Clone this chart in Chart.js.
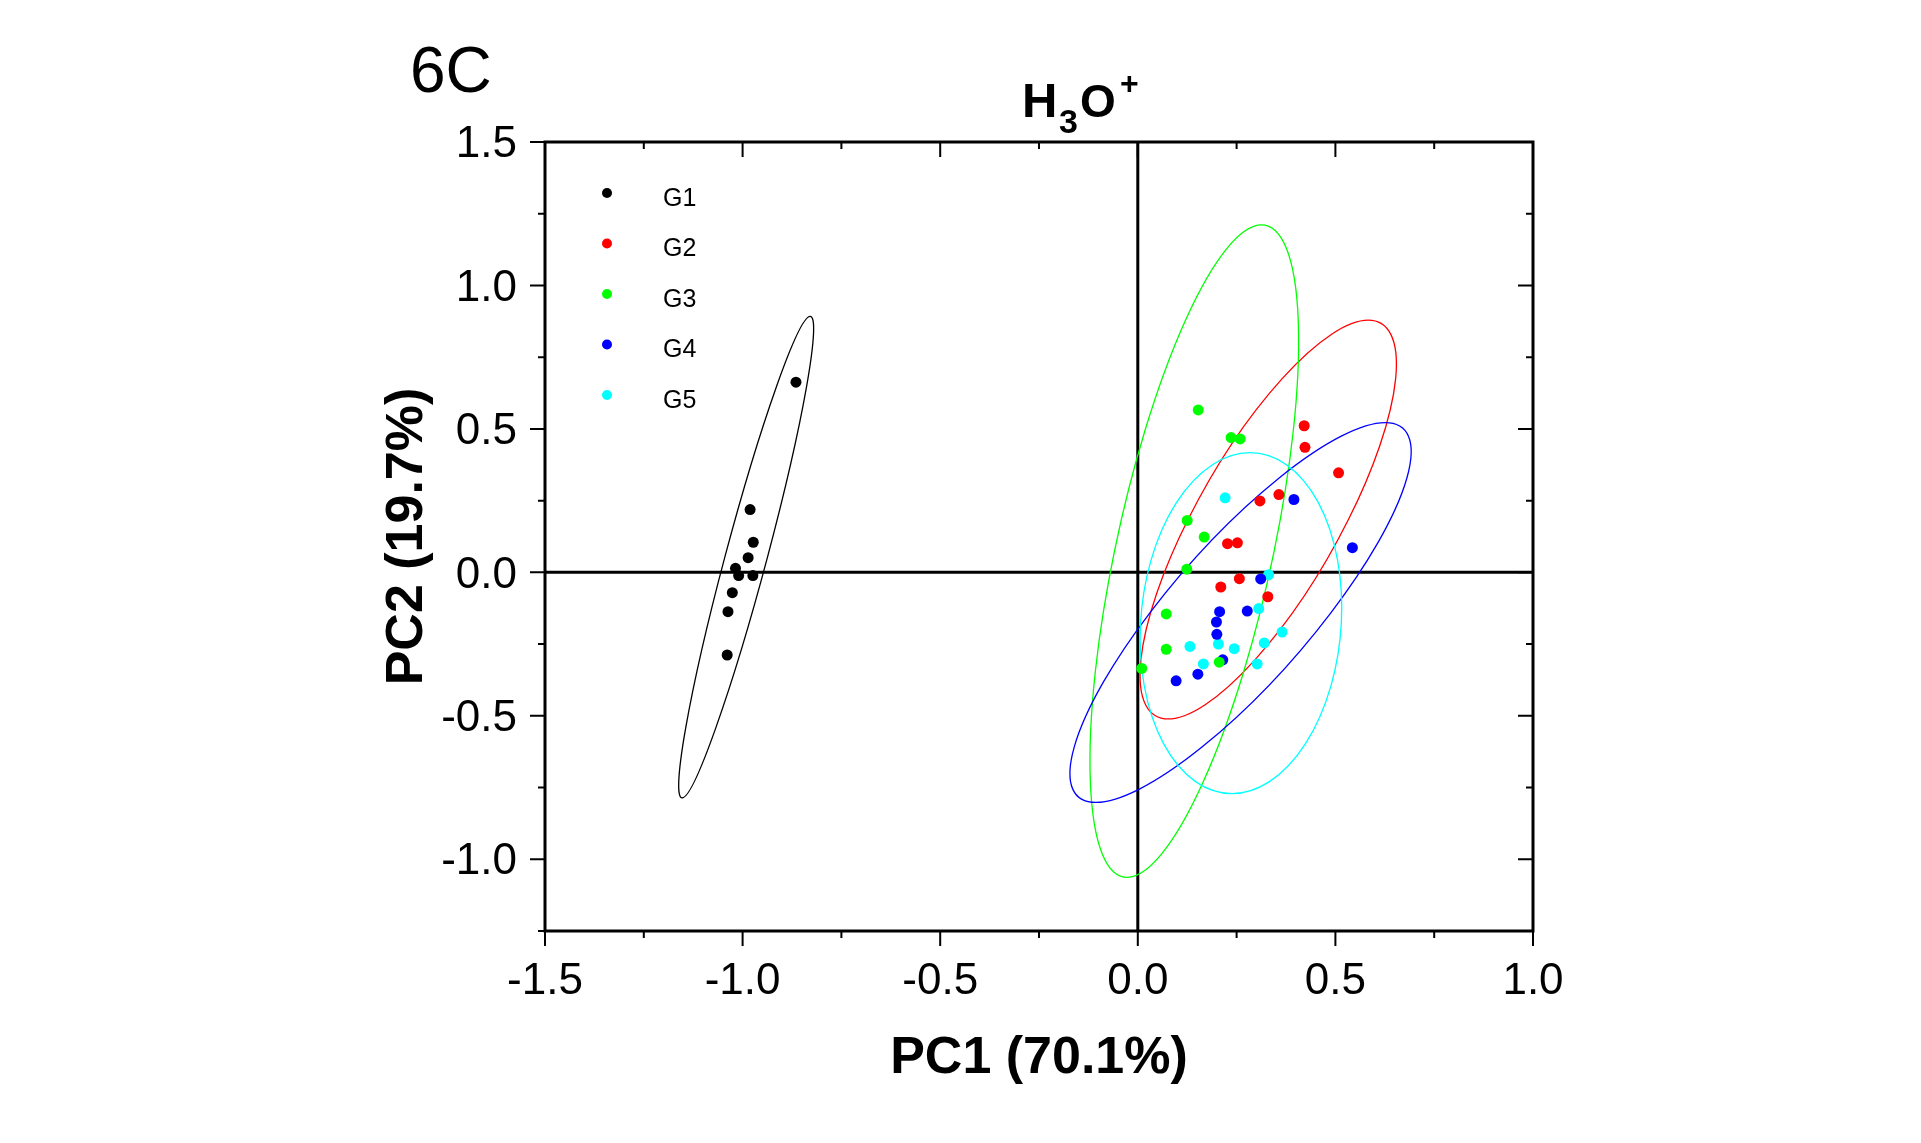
<!DOCTYPE html>
<html>
<head>
<meta charset="utf-8">
<title>6C - H3O+ PCA</title>
<script src="https://cdn.jsdelivr.net/npm/chart.js@4.4.1/dist/chart.umd.min.js"></script>
<style>
  html, body { margin: 0; padding: 0; background: #fff; }
  #wrap { width: 1921px; height: 1143px; position: relative; }
</style>
</head>
<body>
<div id="wrap"><canvas id="pcaChart"></canvas></div>
<script>
// ===== Groups =====
const groupNames = ["G1", "G2", "G3", "G4", "G5"];
const groupColors = ["#000000", "#ff0000", "#00ff00", "#0000ff", "#00ffff"];

// ===== Scores (PC1, PC2) =====
const g1X = [-0.865, -0.981, -0.973, -0.986, -1.018, -1.010, -0.974, -1.026, -1.037, -1.039];
const g1Y = [0.663, 0.219, 0.105, 0.051, 0.014, -0.011, -0.011, -0.071, -0.137, -0.288];
const g2X = [0.421, 0.423, 0.508, 0.309, 0.357, 0.227, 0.252, 0.257, 0.210, 0.329];
const g2Y = [0.511, 0.436, 0.347, 0.249, 0.271, 0.100, 0.103, -0.022, -0.051, -0.085];
const g3X = [0.153, 0.236, 0.259, 0.125, 0.168, 0.124, 0.072, 0.072, 0.010, 0.206];
const g3Y = [0.566, 0.470, 0.465, 0.181, 0.123, 0.011, -0.145, -0.268, -0.335, -0.313];
const g4X = [0.395, 0.543, 0.311, 0.207, 0.277, 0.199, 0.200, 0.215, 0.152, 0.097];
const g4Y = [0.254, 0.086, -0.023, -0.137, -0.135, -0.173, -0.216, -0.305, -0.355, -0.378];
const g5X = [0.221, 0.331, 0.306, 0.365, 0.204, 0.132, 0.244, 0.320, 0.166, 0.302];
const g5Y = [0.260, -0.008, -0.126, -0.208, -0.250, -0.258, -0.266, -0.246, -0.319, -0.319];

// ===== Confidence ellipses (centre, half-axis to top point, horizontal half-chord) =====
const ellipseCx = [-0.991, 0.330, 0.143, 0.260, 0.261];
const ellipseCy = [0.053, 0.184, 0.074, -0.140, -0.177];
const ellipseUx = [0.162, 0.253, 0.170, 0.366, 0.023];
const ellipseUy = [0.839, 0.695, 1.137, 0.662, 0.594];
const ellipseVx = [0.054, 0.203, 0.202, 0.229, 0.254];

// ===== Axes =====
const xMin = -1.5, xMax = 1.0;
const yMin = -1.25, yMax = 1.5;
const tickStep = 0.25;

const groupX = [g1X, g2X, g3X, g4X, g5X];
const groupY = [g1Y, g2Y, g3Y, g4Y, g5Y];

const FONT = "'Liberation Sans', Arial, Helvetica, sans-serif";
const isLabelTick = v => Math.abs(v * 2 - Math.round(v * 2)) < 1e-9;

// ===== Frame, zero lines, ellipses, legend, titles =====
const framePlugin = {
  id: "frame",
  beforeDatasetsDraw(chart) {
    const { ctx, chartArea: a, scales: { x, y } } = chart;
    ctx.save();
    ctx.strokeStyle = "#000";
    ctx.lineWidth = 3;
    const x0 = x.getPixelForValue(0), y0 = y.getPixelForValue(0);
    ctx.beginPath();
    ctx.moveTo(x0, a.top); ctx.lineTo(x0, a.bottom);
    ctx.moveTo(a.left, y0); ctx.lineTo(a.right, y0);
    ctx.stroke();

    ctx.lineWidth = 1.3;
    groupNames.forEach((_, i) => {
      const cx = x.getPixelForValue(ellipseCx[i]);
      const cy = y.getPixelForValue(ellipseCy[i]);
      const ux = x.getPixelForValue(ellipseCx[i] + ellipseUx[i]) - cx;
      const uy = y.getPixelForValue(ellipseCy[i] + ellipseUy[i]) - cy;
      const vx = x.getPixelForValue(ellipseCx[i] + ellipseVx[i]) - cx;
      ctx.save();
      ctx.transform(ux, uy, vx, 0, cx, cy);
      ctx.beginPath();
      ctx.arc(0, 0, 1, 0, Math.PI * 2);
      ctx.restore();
      ctx.strokeStyle = groupColors[i];
      ctx.stroke();
    });
    ctx.restore();
  },
  afterDraw(chart) {
    const { ctx, chartArea: a, scales: { x, y } } = chart;
    ctx.save();
    ctx.strokeStyle = "#000";
    ctx.lineWidth = 2;
    ctx.beginPath();
    x.ticks.forEach(t => {
      const px = x.getPixelForValue(t.value);
      const len = isLabelTick(t.value) ? 15 : 7;
      ctx.moveTo(px, a.bottom); ctx.lineTo(px, a.bottom + len);
      ctx.moveTo(px, a.top); ctx.lineTo(px, a.top + len);
    });
    y.ticks.forEach(t => {
      const py = y.getPixelForValue(t.value);
      const len = isLabelTick(t.value) ? 15 : 7;
      ctx.moveTo(a.left, py); ctx.lineTo(a.left - len, py);
      ctx.moveTo(a.right, py); ctx.lineTo(a.right - len, py);
    });
    ctx.stroke();
    ctx.lineWidth = 3;
    ctx.strokeRect(a.left, a.top, a.right - a.left, a.bottom - a.top);

    // legend (inside the plot, top-left)
    ctx.font = `25px ${FONT}`;
    ctx.textAlign = "left";
    ctx.textBaseline = "middle";
    chart.data.datasets.forEach((ds, i) => {
      const ly = a.top + 51 + i * 50.5;
      ctx.fillStyle = ds.backgroundColor;
      ctx.beginPath();
      ctx.arc(a.left + 62, ly, 5, 0, Math.PI * 2);
      ctx.fill();
      ctx.fillStyle = "#000";
      ctx.fillText(ds.label, a.left + 118, ly + 6);
    });

    // title H3O+ and panel tag
    ctx.textBaseline = "alphabetic";
    ctx.fillStyle = "#000";
    const piece = (txt, px, base, font) => {
      ctx.font = font;
      ctx.fillText(txt, px, base);
    };
    piece("H", 1022, 117, `bold 49px ${FONT}`);
    piece("3", 1059, 133, `bold 34px ${FONT}`);
    piece("O", 1080, 117, `bold 46px ${FONT}`);
    piece("+", 1120, 94, `bold 32px ${FONT}`);
    ctx.font = `64px ${FONT}`;
    ctx.fillText("6C", 410, 91.5);
    ctx.restore();
  }
};

// ===== Chart =====
const chartCanvas = document.getElementById("pcaChart");
new Chart(chartCanvas.getContext("2d"), {
  type: "scatter",
  data: {
    datasets: groupNames.map((name, i) => ({
      label: name,
      data: groupX[i].map((vx, j) => ({ x: vx, y: groupY[i][j] })),
      backgroundColor: groupColors[i],
      borderColor: groupColors[i],
      borderWidth: 0,
      pointRadius: 5.5,
      pointHoverRadius: 5.5
    }))
  },
  options: {
    responsive: true,
    maintainAspectRatio: false,
    animation: false,
    layout: { padding: { left: 372, right: 388, top: 142, bottom: 49 } },
    plugins: {
      legend: { display: false },
      tooltip: { enabled: false },
      title: { display: false }
    },
    scales: {
      x: {
        type: "linear",
        min: xMin,
        max: xMax,
        afterFit: s => { s.height = 163; },
        grid: { display: false },
        border: { display: false },
        ticks: {
          stepSize: tickStep,
          autoSkip: false,
          maxRotation: 0,
          padding: 16,
          color: "#000",
          font: { family: FONT, size: 44 },
          callback: v => isLabelTick(v) ? v.toFixed(1) : ""
        },
        title: {
          display: true,
          text: "PC1 (70.1%)",
          color: "#000",
          font: { family: FONT, size: 52, weight: "bold" }
        }
      },
      y: {
        type: "linear",
        min: yMin,
        max: yMax,
        afterFit: s => { s.width = 173; },
        grid: { display: false },
        border: { display: false },
        ticks: {
          stepSize: tickStep,
          autoSkip: false,
          padding: 20,
          labelOffset: 3,
          color: "#000",
          font: { family: FONT, size: 44 },
          callback: v => isLabelTick(v) ? v.toFixed(1) : ""
        },
        title: {
          display: true,
          text: "PC2 (19.7%)",
          color: "#000",
          font: { family: FONT, size: 52, weight: "bold" }
        }
      }
    }
  },
  plugins: [framePlugin]
});
</script>
</body>
</html>
